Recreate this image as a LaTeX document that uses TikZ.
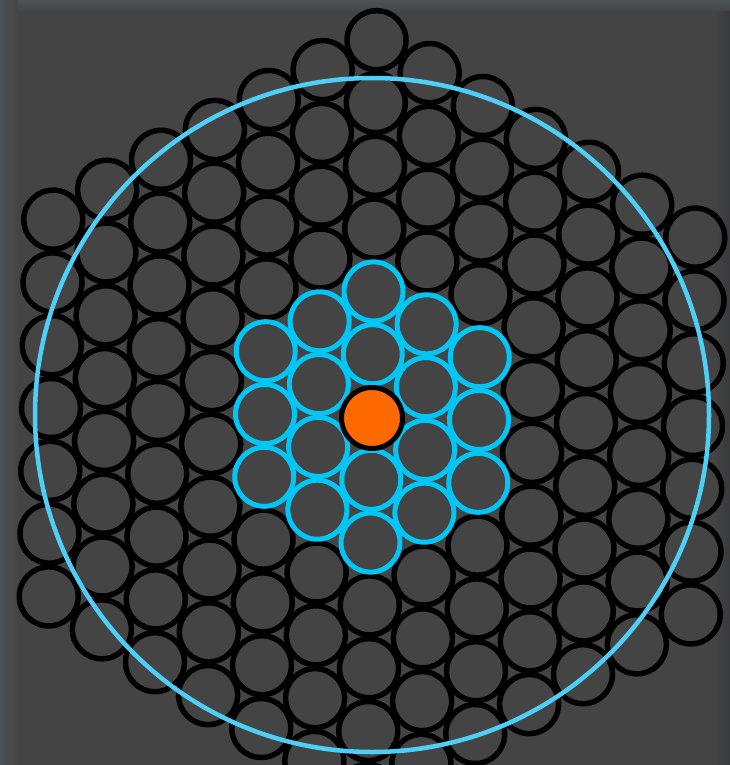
\documentclass[tikz,border=0pt]{standalone}
\usepackage{tikz}

\definecolor{fond}{HTML}{444444}
\definecolor{bord}{HTML}{4C5256}
\definecolor{ombre}{HTML}{37393B}
\definecolor{cyanvif}{HTML}{00C6F6}
\definecolor{bleuclair}{HTML}{4DCFF7}
\definecolor{orangec}{HTML}{FF6A00}

\begin{document}
\begin{tikzpicture}[x=1pt, y=-1pt]

% Paramètres
\def\cx{372}
\def\cy{417}
\def\dx{53.5}
\def\dy{62.8}
\def\rb{29.5} % rayon des disques

% Fond
\useasboundingbox (0,0) rectangle (730,765);
\fill[fond] (0,0) rectangle (730,765);
\shade[left color=bord, right color=fond] (0,0) rectangle (18,765);
\shade[top color=bord, bottom color=fond] (18,0) rectangle (730,12);
\shade[left color=fond, right color=ombre] (714,12) rectangle (730,765);

% Empilement hexagonal (légèrement cisaillé)
\foreach \q in {-6,...,6}{
  \pgfmathtruncatemacro\rmin{max(-6,-6-\q)}
  \pgfmathtruncatemacro\rmax{min(6,6-\q)}
  \foreach \r in {\rmin,...,\rmax}{
    \pgfmathtruncatemacro\d{max(abs(\q),abs(\r),abs(\q+\r))}
    \pgfmathsetmacro\yy{\cy+(\r+\q/2)*\dy}
    \pgfmathsetmacro\px{\cx+\q*\dx-0.012*(\yy-\cy)}
    \pgfmathsetmacro\py{\yy+1.5*\q}
    \ifnum\d>2
      \draw[black, line width=5.5pt] (\px,\py) circle[radius=\rb pt];
    \fi
  }
}

% Deux premières couches de voisins
\foreach \q in {-2,...,2}{
  \foreach \r in {-2,...,2}{
    \pgfmathtruncatemacro\d{max(abs(\q),abs(\r),abs(\q+\r))}
    \pgfmathsetmacro\yy{\cy+(\r+\q/2)*\dy}
    \pgfmathsetmacro\px{\cx+\q*\dx-0.012*(\yy-\cy)}
    \pgfmathsetmacro\py{\yy+1.5*\q}
    \ifnum\d>0 \ifnum\d<3
      \draw[cyanvif, line width=5pt] (\px,\py) circle[radius=\rb pt];
    \fi\fi
  }
}

% Grand cercle
\draw[bleuclair, line width=4.5pt] (\cx,415) circle[radius=337pt];

% Particule centrale
\draw[black, fill=orangec, line width=5pt] (\cx,418) circle[radius=30.5pt];

\end{tikzpicture}
\end{document}
